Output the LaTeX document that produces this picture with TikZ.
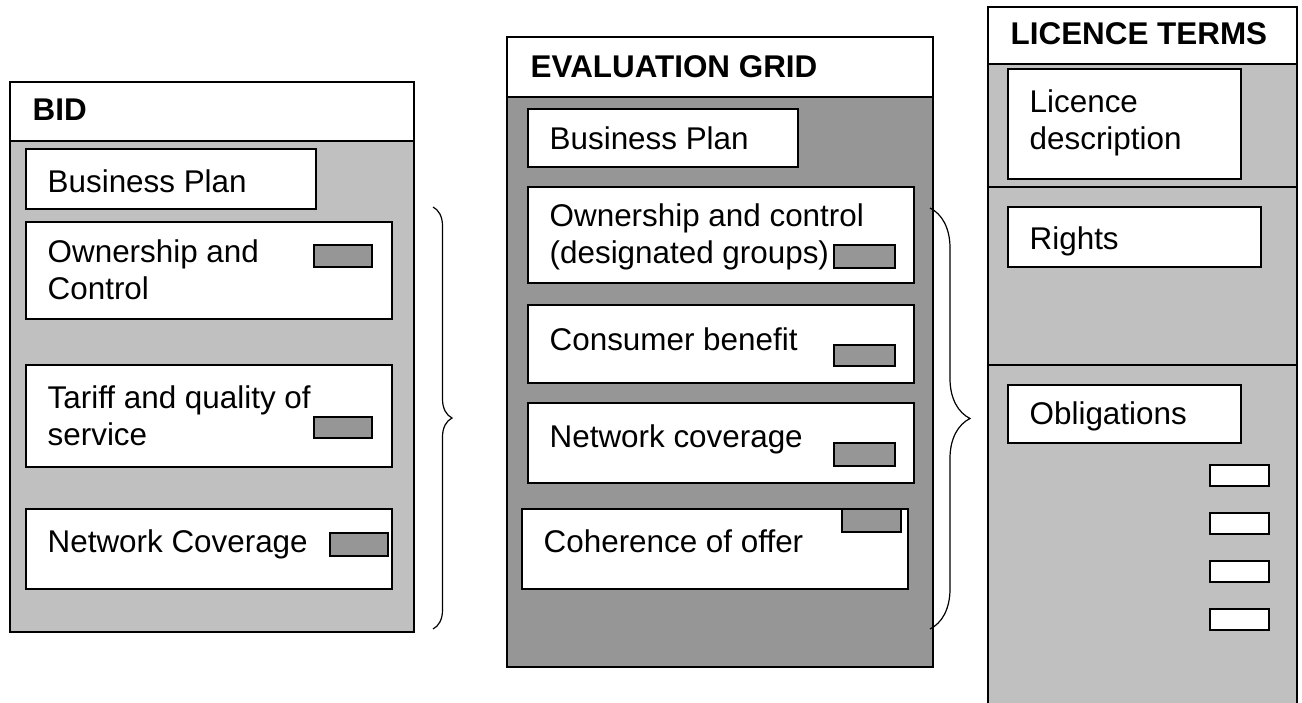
\documentclass[tikz,border=0pt]{standalone}
\usepackage{fontspec}
\setmainfont{Liberation Sans}
\usetikzlibrary{decorations.pathreplacing}
\definecolor{lightgrey}{HTML}{C0C0C0}
\definecolor{midgrey}{HTML}{969696}
\begin{document}
\begin{tikzpicture}[x=0.5pt,y=-0.5pt,line width=0.7pt,
  box/.style={draw,fill=white},
  tag/.style={draw,fill=midgrey},
  lbl/.style={anchor=base west,inner sep=0pt,align=left,font=\fontsize{15.7}{18.25}\selectfont},
  head/.style={lbl,font=\fontsize{15.7}{18.25}\selectfont\bfseries},
  curly/.style={decorate,line width=0.6pt}]
\useasboundingbox (0,0) rectangle (1302,702);
% bid
\draw[fill=lightgrey] (10,82) rectangle (414,632);
\draw[box] (10,82) rectangle (414,141);
\node[head] (bidhead) at (32,120) {BID};
\draw[box] (26,149) rectangle (316,209);
\node[lbl] (bidplan) at (47,192) {Business Plan};
\draw[box] (26,222) rectangle (392,319);
\node[lbl] (bidown) at (47,299) {Ownership and\\Control};
\draw[tag] (314,245) rectangle (372,267);
\draw[box] (26,365) rectangle (392,467);
\node[lbl] (bidtariff) at (47,445) {Tariff and quality of\\service};
\draw[tag] (314,417) rectangle (372,438);
\draw[box] (26,509) rectangle (392,589);
\node[lbl] (bidnet) at (47,552) {Network Coverage};
\draw[tag] (330,533) rectangle (388,556);
\draw[curly,decoration={brace,amplitude=9.5pt}] (433,207) -- (433,629);
% evaluation grid
\draw[fill=midgrey] (507,37) rectangle (933,667);
\draw[box] (507,37) rectangle (933,97);
\node[head] (evalhead) at (530,77) {EVALUATION GRID};
\draw[box] (528,109) rectangle (798,167);
\node[lbl] (evalplan) at (549,149) {Business Plan};
\draw[box] (528,187) rectangle (914,283);
\node[lbl] (evalown) at (549,263) {Ownership and control\\(designated groups)};
\draw[tag] (834,245) rectangle (895,268);
\draw[box] (528,305) rectangle (914,383);
\node[lbl] (evalcons) at (549,350) {Consumer benefit};
\draw[tag] (834,345) rectangle (895,366);
\draw[box] (528,403) rectangle (914,483);
\node[lbl] (evalnet) at (549,447) {Network coverage};
\draw[tag] (834,443) rectangle (895,466);
\draw[box] (522,509) rectangle (908,589);
\node[lbl] (evalcoh) at (543,552) {Coherence of offer};
\draw[tag] (842,509) rectangle (901,532);
\draw[curly,decoration={brace,amplitude=20pt}] (930,208) -- (930,629);
% licence terms
\draw[fill=lightgrey] (988,7) rectangle (1297,706);
\draw[box] (988,7) rectangle (1297,64);
\node[head] (lichead) at (1010,44) {LICENCE TERMS};
\draw (988,187) -- (1297,187);
\draw (988,365) -- (1297,365);
\draw[box] (1008,69) rectangle (1241,179);
\node[lbl] (licdesc) at (1029,149) {Licence\\description};
\draw[box] (1008,207) rectangle (1261,267);
\node[lbl] (licrights) at (1029,249) {Rights};
\draw[box] (1008,385) rectangle (1241,443);
\node[lbl] (licobl) at (1029,424) {Obligations};
\foreach \y in {465,513,561,609}
  \draw[box] (1210,\y) rectangle (1269,\y+21);
\end{tikzpicture}
\end{document}
